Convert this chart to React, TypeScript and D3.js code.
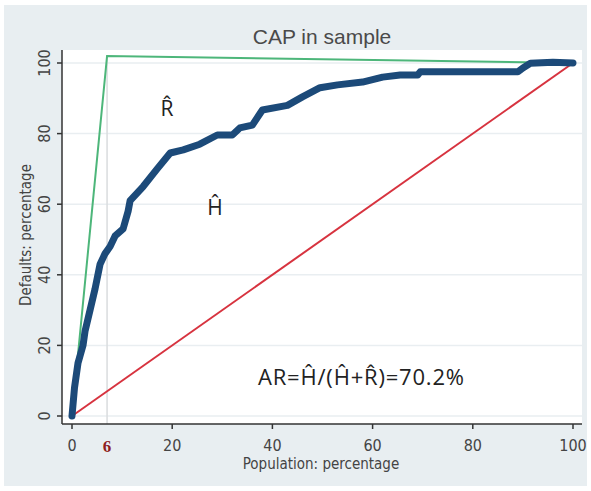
import React from 'react';
import * as d3 from 'd3';

// CAP curve (population %, defaults %)
const popX = [0, 0.5, 1.2, 2.2, 2.6, 3.6, 4.6, 5.6, 6.6, 7.6, 8.6, 10.2, 11.2, 11.6, 14.2, 17, 19.6, 22.2, 25.5, 29, 32, 33.5, 36, 38, 43, 46, 49.5, 53, 58, 62, 65.5, 69, 69.5, 89, 90, 91.5, 96, 100];
const defY = [0, 8, 15, 20, 24, 30, 36, 43, 46, 48, 51, 53, 58, 61, 65, 70, 74.5, 75.4, 77, 79.6, 79.6, 81.6, 82.4, 86.7, 88, 90.4, 93, 93.8, 94.6, 96, 96.6, 96.6, 97.5, 97.5, 98.6, 99.9, 100.2, 100];

// perfect model and random model
const perfectX = [0, 7, 100];
const perfectY = [0, 102, 100];
const randomX = [0, 100];
const randomY = [0, 100];

const xTicks = [0, 20, 40, 60, 80, 100];
const yTicks = [0, 20, 40, 60, 80, 100];
const markX = 7;
const markLabel = '6';

const W = 591;
const H = 491;

const App = () => {
  const x = d3.scaleLinear().domain([0, 100]).range([72, 573]);
  const y = d3.scaleLinear().domain([0, 100]).range([416, 63]);

  const line = d3.line<[number, number]>()
    .x(d => x(d[0]))
    .y(d => y(d[1]));

  const cap = line(popX.map((v, i) => [v, defY[i]]));
  const perfect = line(perfectX.map((v, i) => [v, perfectY[i]]));
  const random = line(randomX.map((v, i) => [v, randomY[i]]));

  const left = 62, right = 582, top = 50, bottom = 424;
  const narrow = "'DejaVu Sans', sans-serif";

  return (
    <svg width={W} height={H} style={{ position: 'absolute', left: 0, top: 0 }}>
      <rect x={0} y={0} width={W} height={H} fill="#fff" />
      <rect x={4} y={5} width={583} height={481} fill="#e8eef1" />
      <rect x={left} y={top} width={right - left} height={bottom - top} fill="#fff" />

      {/* grid */}
      {yTicks.map(t => (
        <line key={t} x1={left} x2={right} y1={y(t)} y2={y(t)} stroke="#e9eef1" strokeWidth={1.5} />
      ))}
      <line x1={x(markX)} x2={x(markX)} y1={top + 8} y2={bottom} stroke="#d9dcde" strokeWidth={1.5} />

      {/* lines */}
      <path d={random!} fill="none" stroke="#d7333f" strokeWidth={2} />
      <path d={perfect!} fill="none" stroke="#4db67a" strokeWidth={2} />
      <path d={cap!} fill="none" stroke="#1c4a79" strokeWidth={7} strokeLinejoin="round" strokeLinecap="round" />

      {/* axes */}
      <line x1={left} x2={left} y1={top} y2={bottom} stroke="#333" strokeWidth={1.5} />
      <line x1={left} x2={right} y1={bottom} y2={bottom} stroke="#333" strokeWidth={1.5} />
      {yTicks.map(t => (
        <g key={t}>
          <line x1={left - 5} x2={left} y1={y(t)} y2={y(t)} stroke="#333" strokeWidth={1.5} />
          <text transform={`translate(50,${y(t)}) rotate(-90)`} textAnchor="middle"
            fontFamily={narrow} fontStretch="condensed" fontSize={16} fill="#444">{t}</text>
        </g>
      ))}
      {xTicks.map(t => (
        <g key={t}>
          <line x1={x(t)} x2={x(t)} y1={bottom} y2={bottom + 5} stroke="#333" strokeWidth={1.5} />
          <text x={x(t)} y={451} textAnchor="middle" fontFamily={narrow} fontStretch="condensed"
            fontSize={16} fill="#444">{t}</text>
        </g>
      ))}
      <text x={x(markX)} y={452} textAnchor="middle" fontFamily="'Liberation Serif', serif"
        fontWeight="bold" fontSize={17} fill="#8f1f1f">{markLabel}</text>

      {/* titles */}
      <text x={322} y={44} textAnchor="middle" fontFamily="'Liberation Sans', Arial, sans-serif"
        fontSize={21} fill="#4a4a4a">CAP in sample</text>
      <text x={321} y={469} textAnchor="middle" fontFamily={narrow} fontStretch="condensed"
        fontSize={15} fill="#444">Population: percentage</text>
      <text transform="translate(31,235) rotate(-90)" textAnchor="middle" fontFamily={narrow}
        fontStretch="condensed" fontSize={15} fill="#444">Defaults: percentage</text>

      {/* annotations */}
      <text x={167} y={116} textAnchor="middle" fontFamily="'Open Sans', sans-serif" fontSize={21} fill="#222">R̂</text>
      <text x={215} y={215} textAnchor="middle" fontFamily="'Open Sans', sans-serif" fontSize={21} fill="#222">Ĥ</text>
      <text x={258} y={385} fontFamily="'Open Sans', sans-serif" fontSize={22} letterSpacing={0.8} fill="#222">AR=Ĥ/(Ĥ+R̂)=70.2%</text>
    </svg>
  );
};

export default App;
